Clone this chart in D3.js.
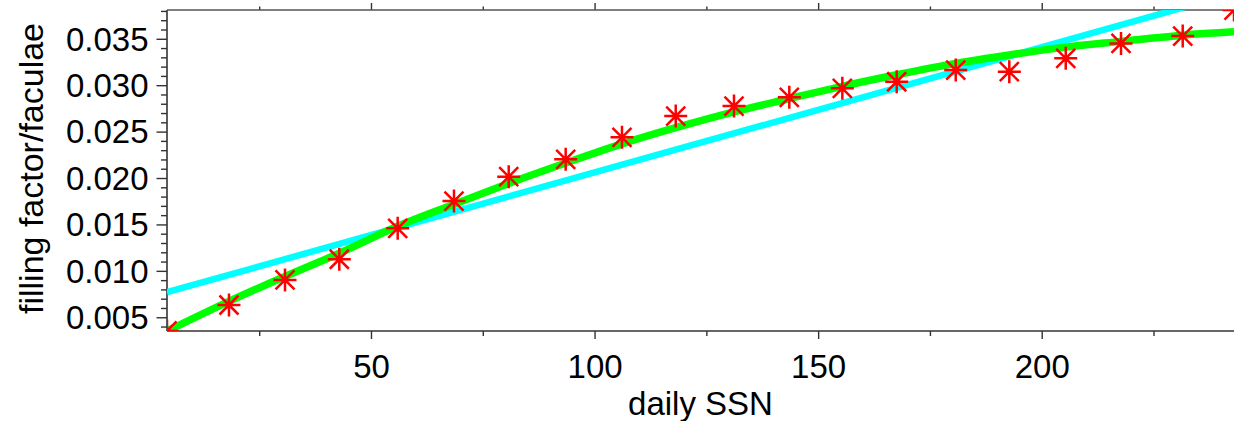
<!DOCTYPE html>
<html>
<head>
<meta charset="utf-8">
<script src="https://cdn.jsdelivr.net/npm/d3@7"></script>
<style>
  html, body { margin: 0; padding: 0; background: #fff; }
  svg { display: block; }
  text { font-family: "Liberation Sans", Arial, Helvetica, sans-serif; fill: #000; }
</style>
</head>
<body>
<svg id="chart" width="1234" height="421"></svg>
<script>
// ---- data ----
const ssn = [4.38, 18.24, 30.77, 42.91, 55.97, 68.56, 80.80, 93.54, 106.13, 118.15,
             131.18, 143.55, 155.41, 167.57, 180.77, 192.75, 205.37, 217.73, 231.53, 243.0];
const fillingFactor = [0.00353, 0.00632, 0.00902, 0.01125, 0.01458, 0.01752, 0.02014, 0.02201, 0.02438, 0.02668,
                       0.02775, 0.02869, 0.02966, 0.03037, 0.03163, 0.03145, 0.03289, 0.03450, 0.03529, 0.03809];
// quadratic-like fit (green)
const fitX = ssn;
const fitY = [0.00352, 0.00672, 0.00940, 0.01190, 0.01480, 0.01717, 0.01942, 0.02161, 0.02368, 0.02542,
              0.02713, 0.02855, 0.02988, 0.03112, 0.03235, 0.03326, 0.03410, 0.03472, 0.03539, 0.03575];
// linear fit (cyan) endpoints
const linX = [4.38, 243.0];
const linY = [0.00770, 0.03990];

const xDomain = [4.38, 243.0];
const yDomain = [0.00352, 0.0381];
const xMajorTicks = [50, 100, 150, 200];
const xMinorTicks = [25, 75, 125, 175, 225];
const yMajorTicks = [0.005, 0.010, 0.015, 0.020, 0.025, 0.030, 0.035];
const yMinorTicks = [0.004, 0.006, 0.007, 0.008, 0.009, 0.011, 0.012, 0.013, 0.014,
                     0.016, 0.017, 0.018, 0.019, 0.021, 0.022, 0.023, 0.024,
                     0.026, 0.027, 0.028, 0.029, 0.031, 0.032, 0.033, 0.034,
                     0.036, 0.037, 0.038];
const xLabel = "daily SSN";
const yLabel = "filling factor/faculae";

// ---- layout ----
const W = 1234, H = 421;
const L = 167, R = 1234, T = 10, B = 331;
const axisColor = "#333";

const svg = d3.select("#chart");
svg.append("rect").attr("width", W).attr("height", H).attr("fill", "#fff");

const x = d3.scaleLinear().domain(xDomain).range([L, R]);
const y = d3.scaleLinear().domain(yDomain).range([B, T]);

svg.append("defs").append("clipPath").attr("id", "plotclip")
  .append("rect").attr("x", L).attr("y", T).attr("width", R - L).attr("height", B - T);

function styleAxis(g) {
  g.select(".domain").remove();
  g.selectAll(".tick line").attr("stroke", axisColor).attr("stroke-width", 1.4);
}

// bottom axis
svg.append("g").attr("transform", `translate(0,${B})`)
  .call(d3.axisBottom(x).tickValues(xMajorTicks).tickSize(8).tickPadding(16).tickFormat(d3.format("d")))
  .call(styleAxis)
  .call(g => g.selectAll("text").attr("font-size", 33).attr("font-family", "Liberation Sans, Arial, sans-serif"));
svg.append("g").attr("transform", `translate(0,${B})`)
  .call(d3.axisBottom(x).tickValues(xMinorTicks).tickSize(5).tickFormat(""))
  .call(styleAxis);

// top axis (ticks only)
svg.append("g").attr("transform", `translate(0,${T})`)
  .call(d3.axisTop(x).tickValues(xMajorTicks).tickSize(7).tickFormat(""))
  .call(styleAxis);
svg.append("g").attr("transform", `translate(0,${T})`)
  .call(d3.axisTop(x).tickValues(xMinorTicks).tickSize(3.5).tickFormat(""))
  .call(styleAxis);

// left axis
svg.append("g").attr("transform", `translate(${L},0)`)
  .call(d3.axisLeft(y).tickValues(yMajorTicks).tickSize(10.5).tickPadding(8).tickFormat(d3.format(".3f")))
  .call(styleAxis)
  .call(g => g.selectAll("text").attr("font-size", 33).attr("dy", "0.34em").attr("font-family", "Liberation Sans, Arial, sans-serif"));
svg.append("g").attr("transform", `translate(${L},0)`)
  .call(d3.axisLeft(y).tickValues(yMinorTicks).tickSize(6).tickFormat(""))
  .call(styleAxis);

// frame lines
svg.append("line").attr("x1", L).attr("x2", L).attr("y1", T).attr("y2", B)
  .attr("stroke", axisColor).attr("stroke-width", 1.6);
svg.append("line").attr("x1", L).attr("x2", R).attr("y1", B).attr("y2", B)
  .attr("stroke", axisColor).attr("stroke-width", 1.6);
svg.append("line").attr("x1", L).attr("x2", R).attr("y1", T).attr("y2", T)
  .attr("stroke", "#555").attr("stroke-width", 1.6);

const plot = svg.append("g").attr("clip-path", "url(#plotclip)");

// cyan linear fit
plot.append("path")
  .datum(linX.map((v, i) => [v, linY[i]]))
  .attr("fill", "none").attr("stroke", "#00ffff").attr("stroke-width", 6.5)
  .attr("d", d3.line().x(d => x(d[0])).y(d => y(d[1])));

// green fit
plot.append("path")
  .datum(fitX.map((v, i) => [v, fitY[i]]))
  .attr("fill", "none").attr("stroke", "#00ff00").attr("stroke-width", 7.5)
  .attr("d", d3.line().curve(d3.curveCatmullRom).x(d => x(d[0])).y(d => y(d[1])));

// red asterisks
const r = 11.5, dg = 9.5;
const asterisk = `M${-r},0L${r},0M0,${-r}L0,${r}M${-dg},${-dg}L${dg},${dg}M${-dg},${dg}L${dg},${-dg}`;
plot.selectAll("path.mk")
  .data(ssn.map((v, i) => [v, fillingFactor[i]]))
  .join("path").attr("class", "mk")
  .attr("transform", d => `translate(${x(d[0])},${y(d[1])})`)
  .attr("d", asterisk)
  .attr("fill", "none").attr("stroke", "#ff0000").attr("stroke-width", 2.5);

// axis titles
svg.append("text").attr("x", (L + R) / 2).attr("y", 415)
  .attr("text-anchor", "middle").attr("font-size", 33).text(xLabel);
svg.append("text").attr("transform", `translate(43,${(T + B) / 2 - 2}) rotate(-90)`)
  .attr("text-anchor", "middle").attr("font-size", 34).text(yLabel);
</script>
</body>
</html>
